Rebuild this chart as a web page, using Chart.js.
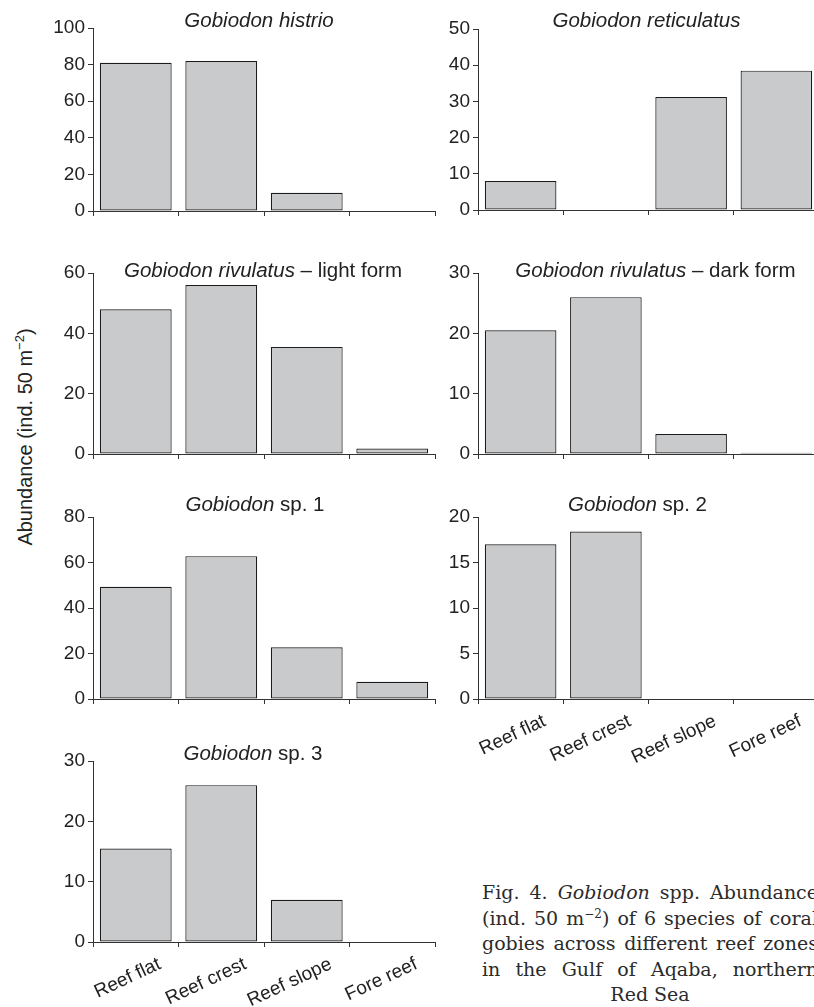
<!DOCTYPE html>
<html>
<head>
<meta charset="utf-8">
<script src="https://cdn.jsdelivr.net/npm/chart.js@4.4.1/dist/chart.umd.min.js"></script>
<style>
  html, body { margin: 0; padding: 0; background: #fff; width: 814px; height: 1007px; overflow: hidden; }
  body { position: relative; }
  canvas.panel { position: absolute; }
  #ylab {
    position: absolute; left: 25px; top: 437px;
    transform: translate(-50%, -50%) rotate(-90deg);
    font: 20px "Liberation Sans", Arial, sans-serif; color: #222;
    white-space: nowrap; line-height: 1;
  }
  #ylab sup { font-size: 13px; line-height: 0; }
  #caption {
    position: absolute; left: 482px; top: 880px; width: 336px;
    font: 19px "DejaVu Serif", serif; color: #2b2b2b; line-height: 25.5px;
  }
  #caption div { text-align: justify; text-align-last: justify; }
  #caption div.last { text-align: center; text-align-last: center; }
  #caption sup { font-size: 12px; line-height: 0; }
</style>
</head>
<body>
<div id="ylab">Abundance (ind. 50 m<sup>−2</sup>)</div>
<div id="caption">
  <div>Fig. 4. <i>Gobiodon</i> spp. Abundance</div>
  <div>(ind. 50 m<sup>−2</sup>) of 6 species of coral</div>
  <div>gobies across different reef zones</div>
  <div>in the Gulf of Aqaba, northern</div>
  <div class="last">Red Sea</div>
</div>
<script>
/* Gobiodon abundance per reef zone, one small panel per species. */

const zones = ["Reef flat", "Reef crest", "Reef slope", "Fore reef"];

const histrio = [81, 82, 10, 0];
const reticulatus = [8, 0, 31.2, 38.5];
const rivulatusLight = [48, 56, 35.5, 1.8];
const rivulatusDark = [20.5, 26, 3.3, 0.2];
const sp1 = [49.3, 62.8, 22.7, 7.6];
const sp2 = [17, 18.4, 0, 0];
const sp3 = [15.5, 26, 7, 0];

const yMax = [100, 50, 60, 30, 80, 20, 30];
const yStep = [20, 10, 20, 10, 20, 5, 10];

// [text, italic]
const titles = [
  [["Gobiodon histrio", true]],
  [["Gobiodon reticulatus", true]],
  [["Gobiodon rivulatus", true], [" \u2013 light form", false]],
  [["Gobiodon rivulatus", true], [" \u2013 dark form", false]],
  [["Gobiodon", true], [" sp. 1", false]],
  [["Gobiodon", true], [" sp. 2", false]],
  [["Gobiodon", true], [" sp. 3", false]],
];

const series = [histrio, reticulatus, rivulatusLight, rivulatusDark, sp1, sp2, sp3];

// plot area on the page: left, top, right, bottom; title offset from area centre/top
const LAYOUT = [
  { area: [93, 28, 435, 211], tdx: -5, tdy: -1, showX: false },
  { area: [478, 29, 819, 210], tdx: -2, tdy: -2, showX: false },
  { area: [93, 273, 435, 454], tdx: -1, tdy: 3.5, showX: false },
  { area: [478, 273, 819, 454], tdx: 7, tdy: 3.5, showX: false },
  { area: [93, 517, 435, 699], tdx: -9, tdy: -6, showX: false },
  { area: [478, 517, 819, 699], tdx: -11, tdy: -6, showX: true },
  { area: [93, 761, 435, 942], tdx: -11, tdy: -1, showX: true },
];

const FONT = '"Liberation Sans", Arial, sans-serif';
const INK = "#222";
const AXIS = "#333";
const PAD_L = 80, PAD_T = 30, PAD_R = 6;

Chart.defaults.font.family = FONT;
Chart.defaults.color = INK;

const titlePlugin = {
  id: "panelTitle",
  afterDraw(chart, args, opts) {
    const { ctx, chartArea } = chart;
    const segs = opts.segments || [];
    ctx.save();
    ctx.fillStyle = INK;
    ctx.textBaseline = "alphabetic";
    ctx.textAlign = "left";
    const fontOf = (it) => `${it ? "italic " : ""}20.5px ${FONT}`;
    const widths = segs.map(([t, it]) => { ctx.font = fontOf(it); return ctx.measureText(t).width; });
    const total = widths.reduce((a, b) => a + b, 0);
    let x = (chartArea.left + chartArea.right) / 2 + opts.dx - total / 2;
    const y = chartArea.top + opts.dy;
    segs.forEach(([t, it], i) => {
      ctx.font = fontOf(it);
      ctx.fillText(t, x, y);
      x += widths[i];
    });
    ctx.restore();
  },
};

function makePanel(i) {
  const lay = LAYOUT[i];
  const [l, t, r, b] = lay.area;
  const xH = lay.showX ? 75 : 24;
  const w = PAD_L + (r - l) + PAD_R;
  const h = PAD_T + (b - t) + xH;

  const cv = document.createElement("canvas");
  cv.className = "panel";
  cv.width = w; cv.height = h;
  cv.style.left = (l - PAD_L) + "px";
  cv.style.top = (t - PAD_T) + "px";
  cv.style.width = w + "px";
  cv.style.height = h + "px";
  document.body.appendChild(cv);

  new Chart(cv, {
    type: "bar",
    data: {
      labels: zones,
      datasets: [{
        data: series[i],
        backgroundColor: "#c9cacc",
        borderColor: "#1c1c1c",
        borderWidth: 1.2,
        borderSkipped: false,
        categoryPercentage: 1,
        barPercentage: 0.84,
      }],
    },
    options: {
      responsive: false,
      animation: false,
      layout: { padding: { left: 0, top: PAD_T, right: PAD_R, bottom: 0 } },
      plugins: {
        legend: { display: false },
        tooltip: { enabled: false },
        panelTitle: { segments: titles[i], dx: lay.tdx, dy: lay.tdy },
      },
      scales: {
        x: {
          grid: { drawOnChartArea: false, drawTicks: true, tickLength: 5, color: AXIS, offset: true },
          border: { color: AXIS, width: 1 },
          ticks: {
            display: lay.showX,
            autoSkip: false,
            maxRotation: 25, minRotation: 25,
            labelOffset: 24,
            padding: 6,
            font: { size: 19 },
            color: INK,
          },
          afterFit(s) { s.height = xH; },
        },
        y: {
          min: 0, max: yMax[i],
          grid: { drawOnChartArea: false, drawTicks: true, tickLength: 5, color: AXIS },
          border: { color: AXIS, width: 1 },
          ticks: { stepSize: yStep[i], padding: 3, font: { size: 19 }, color: INK },
          afterFit(s) { s.width = PAD_L; },
        },
      },
    },
    plugins: [titlePlugin],
  });
}

for (let i = 0; i < series.length; i++) makePanel(i);
</script>
</body>
</html>
